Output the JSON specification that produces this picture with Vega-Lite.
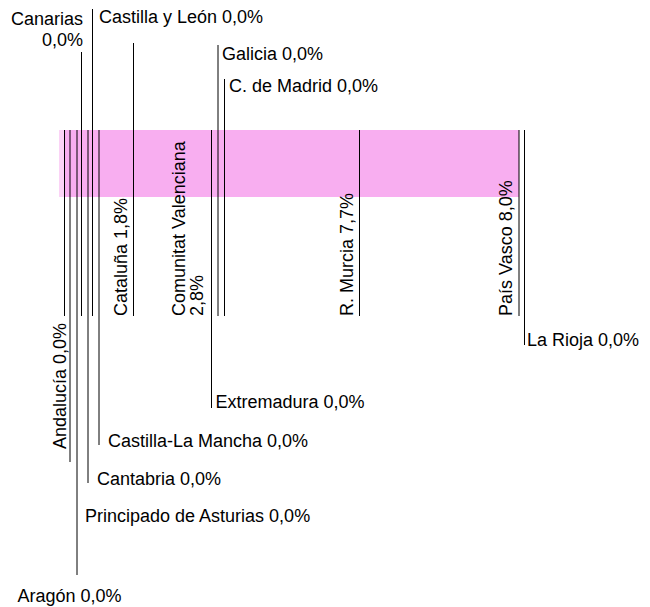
{
  "$schema": "https://vega.github.io/schema/vega-lite/v6.json",
  "width": 650,
  "height": 607,
  "padding": 0,
  "autosize": {"type": "fit", "contains": "padding"},
  "config": {"view": {"stroke": null}, "text": {"font": "Liberation Sans", "fontSize": 18, "color": "#000000"}},
  "datasets": {
    "band": [
      {"part": "light", "from": 59, "to": 65, "top": 130, "bottom": 197},
      {"part": "main", "from": 65, "to": 519, "top": 130, "bottom": 197}
    ],
    "regions": [
      {"region": "Andalucía", "value": 0.0, "label": "Andalucía 0,0%", "pos": 64.5, "top": 130, "bottom": 316, "labelX": 65.5, "labelY": 323},
      {"region": "Principado de Asturias", "value": 0.0, "label": "Principado de Asturias 0,0%", "pos": 70, "top": 130, "bottom": 462, "labelX": 85, "labelY": 522},
      {"region": "Aragón", "value": 0.0, "label": "Aragón 0,0%", "pos": 77, "top": 130, "bottom": 575, "labelX": 69.5, "labelY": 602},
      {"region": "Canarias", "value": 0.0, "label": "Canarias\n0,0%", "pos": 81.5, "top": 52, "bottom": 316, "labelX": 83, "labelY": 25},
      {"region": "Cantabria", "value": 0.0, "label": "Cantabria 0,0%", "pos": 88, "top": 130, "bottom": 483, "labelX": 97, "labelY": 485},
      {"region": "Castilla y León", "value": 0.0, "label": "Castilla y León 0,0%", "pos": 92.5, "top": 9, "bottom": 316, "labelX": 99, "labelY": 23},
      {"region": "Castilla-La Mancha", "value": 0.0, "label": "Castilla-La Mancha 0,0%", "pos": 99, "top": 130, "bottom": 445, "labelX": 108, "labelY": 447},
      {"region": "Cataluña", "value": 1.8, "label": "Cataluña 1,8%", "pos": 133.5, "top": 43, "bottom": 316, "labelX": 127, "labelY": 316},
      {"region": "Comunitat Valenciana", "value": 2.8, "label": "Comunitat Valenciana\n2,8%", "pos": 211.5, "top": 130, "bottom": 316, "labelX": 185, "labelY": 316},
      {"region": "Extremadura", "value": 0.0, "label": "Extremadura 0,0%", "pos": 211.5, "top": 130, "bottom": 408, "labelX": 215.5, "labelY": 408},
      {"region": "Galicia", "value": 0.0, "label": "Galicia 0,0%", "pos": 218, "top": 45, "bottom": 316, "labelX": 222, "labelY": 60},
      {"region": "C. de Madrid", "value": 0.0, "label": "C. de Madrid 0,0%", "pos": 224.5, "top": 79, "bottom": 316, "labelX": 229, "labelY": 92},
      {"region": "R. Murcia", "value": 7.7, "label": "R. Murcia 7,7%", "pos": 359.5, "top": 130, "bottom": 316, "labelX": 352.5, "labelY": 316},
      {"region": "País Vasco", "value": 8.0, "label": "País Vasco 8,0%", "pos": 519, "top": 130, "bottom": 316, "labelX": 511.5, "labelY": 316},
      {"region": "La Rioja", "value": 0.0, "label": "La Rioja 0,0%", "pos": 524.5, "top": 130, "bottom": 345, "labelX": 527, "labelY": 346}
    ]
  },
  "layer": [
    {
      "data": {"name": "band"},
      "mark": {"type": "rect"},
      "encoding": {
        "x": {"field": "from", "type": "quantitative", "scale": {"domain": [0, 650], "nice": false, "zero": false}, "axis": null},
        "x2": {"field": "to"},
        "y": {"field": "top", "type": "quantitative", "scale": {"domain": [0, 607], "nice": false, "zero": false, "reverse": true}, "axis": null},
        "y2": {"field": "bottom"},
        "color": {"field": "part", "type": "nominal", "scale": {"domain": ["light", "main"], "range": ["#fbd3f6", "#f8aef0"]}, "legend": null}
      }
    },
    {
      "data": {"name": "regions"},
      "mark": {"type": "rule", "color": "#000000", "strokeWidth": 1},
      "encoding": {
        "x": {"field": "pos", "type": "quantitative", "axis": null},
        "y": {"field": "top", "type": "quantitative", "axis": null},
        "y2": {"field": "bottom"}
      }
    },
    {
      "data": {"name": "regions"},
      "transform": [{"filter": {"field": "region", "oneOf": ["Castilla y León", "Galicia", "C. de Madrid", "La Rioja", "Extremadura", "Castilla-La Mancha", "Cantabria", "Principado de Asturias"]}}],
      "mark": {"type": "text", "align": "left", "baseline": "alphabetic"},
      "encoding": {
        "x": {"field": "labelX", "type": "quantitative", "axis": null},
        "y": {"field": "labelY", "type": "quantitative", "axis": null},
        "text": {"field": "label"}
      }
    },
    {
      "data": {"name": "regions"},
      "transform": [{"filter": {"field": "region", "equal": "Canarias"}}],
      "mark": {"type": "text", "align": "right", "baseline": "alphabetic", "lineBreak": "\n", "lineHeight": 21},
      "encoding": {
        "x": {"field": "labelX", "type": "quantitative", "axis": null},
        "y": {"field": "labelY", "type": "quantitative", "axis": null},
        "text": {"field": "label"}
      }
    },
    {
      "data": {"name": "regions"},
      "transform": [{"filter": {"field": "region", "equal": "Aragón"}}],
      "mark": {"type": "text", "align": "center", "baseline": "alphabetic"},
      "encoding": {
        "x": {"field": "labelX", "type": "quantitative", "axis": null},
        "y": {"field": "labelY", "type": "quantitative", "axis": null},
        "text": {"field": "label"}
      }
    },
    {
      "data": {"name": "regions"},
      "transform": [{"filter": {"field": "region", "oneOf": ["Cataluña", "Comunitat Valenciana", "R. Murcia", "País Vasco"]}}],
      "mark": {"type": "text", "align": "left", "baseline": "alphabetic", "angle": 270, "lineBreak": "\n", "lineHeight": 18},
      "encoding": {
        "x": {"field": "labelX", "type": "quantitative", "axis": null},
        "y": {"field": "labelY", "type": "quantitative", "axis": null},
        "text": {"field": "label"}
      }
    },
    {
      "data": {"name": "regions"},
      "transform": [{"filter": {"field": "region", "equal": "Andalucía"}}],
      "mark": {"type": "text", "align": "right", "baseline": "alphabetic", "angle": 270},
      "encoding": {
        "x": {"field": "labelX", "type": "quantitative", "axis": null},
        "y": {"field": "labelY", "type": "quantitative", "axis": null},
        "text": {"field": "label"}
      }
    }
  ]
}
